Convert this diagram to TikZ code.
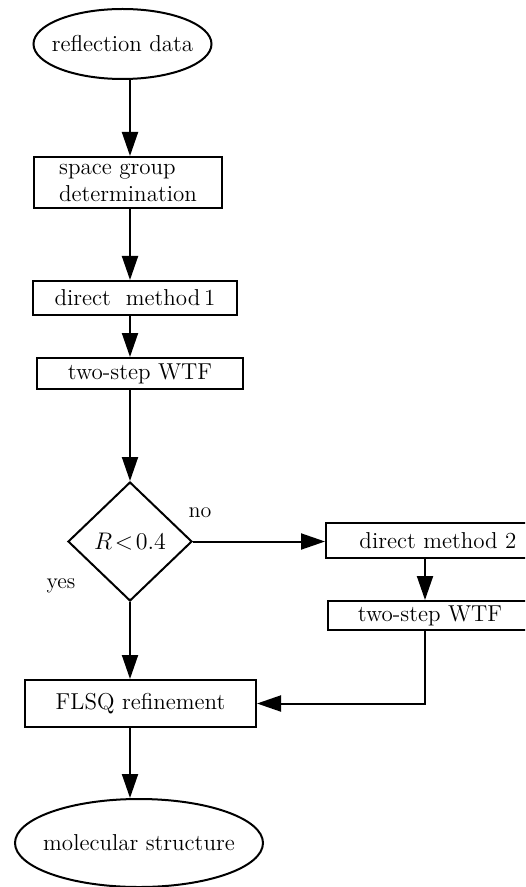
\documentclass[tikz,border=0pt]{standalone}
\usepackage{amsmath}
\usetikzlibrary{arrows.meta,shapes.geometric}
\tikzset{%
  block/.style={draw, rectangle, line width=1pt, inner sep=0pt, font=\fontsize{11.5}{13.5}\selectfont},% process box
  terminal/.style={block, ellipse, inner xsep=-6pt},% start / end
  decision/.style={block, diamond},% test
  flow/.style={line width=1pt, -{Triangle[length=12pt,width=8pt]}},% connector
  answer/.style={font=\fontsize{11}{13}\selectfont}% yes / no
}

\begin{document}
\begin{tikzpicture}[x=0.5pt, y=-0.5pt]
\useasboundingbox (0,0) rectangle (525,887);
\clip (0,0) rectangle (525,887);
\coordinate (spine) at (130,0);
\coordinate (rcol) at (425,0);

\node[terminal, minimum width=89pt, minimum height=35pt] (refl) at (122.5,44) {reflection data};
\node[block, minimum width=94pt, minimum height=25.5pt, align=left] (sgd) at (128,182.5) {space group\\determination};
\node[block, minimum width=102pt, minimum height=17pt] (dm1) at (135,298) {direct\ \ method\,1};
\node[block, minimum width=103pt, minimum height=15.5pt] (wtf1) at (140,373.5) {two-step WTF};
\node[decision, minimum width=62pt, minimum height=59.5pt] (dec) at (130,541.5) {$R\!<\!0.4$};
\node[block, minimum width=112pt, minimum height=17.5pt] (dm2) at (438,540.5) {direct method 2};
\node[block, minimum width=102pt, minimum height=14.5pt] (wtf2) at (430,615.5) {two-step WTF};
\node[block, minimum width=115.5pt, minimum height=23.5pt] (flsq) at (140.5,703.5) {FLSQ refinement};
\node[terminal, minimum width=124pt, minimum height=44pt] (mol) at (139,843) {molecular structure};

\node[answer] (no) at (200,513) {no};
\node[answer] (yes) at (61,586) {yes};

\draw[flow] (refl.south -| spine) -- (sgd.north -| spine);
\draw[flow] (sgd.south -| spine) -- (dm1.north -| spine);
\draw[flow] (dm1.south -| spine) -- (wtf1.north -| spine);
\draw[flow] (wtf1.south -| spine) -- (dec.north);
\draw[flow] (dec.south) -- (flsq.north -| dec);
\draw[flow] (flsq.south -| dec) -- (mol.north -| dec);
\draw[flow] (dec.east) -- (dm2.west |- dec.east);
\draw[flow] (dm2.south -| rcol) -- (wtf2.north -| rcol);
\draw[flow] (wtf2.south -| rcol) |- (flsq.east);

\end{tikzpicture}
\end{document}
